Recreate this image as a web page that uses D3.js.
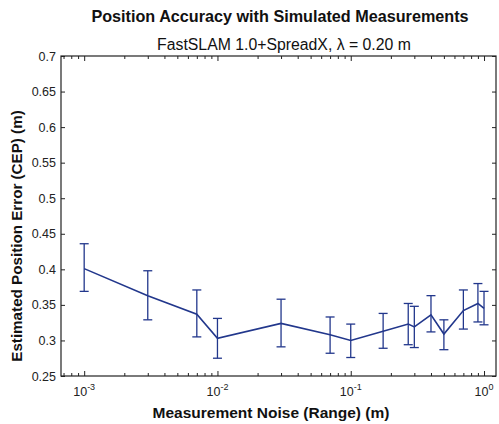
<!DOCTYPE html>
<html>
<head>
<meta charset="utf-8">
<script src="https://d3js.org/d3.v7.min.js"></script>
<style>
  body { margin: 0; background: #fff; }
  svg { display: block; font-family: "Liberation Sans", Arial, Helvetica, sans-serif; }
</style>
</head>
<body>
<div id="chart"></div>
<script>
// measurement noise (range), m
var noise = [0.001, 0.003, 0.007, 0.01, 0.03, 0.07, 0.1, 0.175, 0.27, 0.30, 0.40, 0.50, 0.70, 0.90, 1.0];
// mean CEP, m
var cepMean = [0.401, 0.363, 0.337, 0.303, 0.324, 0.308, 0.300, 0.313, 0.323, 0.319, 0.336, 0.309, 0.342, 0.352, 0.345];
// error bar ends
var cepUpper = [0.436, 0.398, 0.371, 0.331, 0.358, 0.333, 0.323, 0.338, 0.352, 0.348, 0.363, 0.329, 0.371, 0.380, 0.369];
var cepLower = [0.369, 0.329, 0.305, 0.275, 0.291, 0.282, 0.276, 0.289, 0.294, 0.290, 0.312, 0.287, 0.316, 0.326, 0.322];
// tick values
var yTicks = [0.25, 0.3, 0.35, 0.4, 0.45, 0.5, 0.55, 0.6, 0.65, 0.7];
var xMajor = [0.001, 0.01, 0.1, 1];
var xMajorExp = ["-3", "-2", "-1", "0"];

var width = 499, height = 424;
var margin = {top: 56, right: 3, bottom: 48, left: 61};
var innerW = width - margin.left - margin.right,
    innerH = height - margin.top - margin.bottom;

var lineColor = "#22378c";

var svg = d3.select("#chart").append("svg")
    .attr("width", width)
    .attr("height", height);

var g = svg.append("g")
    .attr("transform", "translate(" + margin.left + "," + margin.top + ")");

var x = d3.scaleLog()
    .domain([0.00067, 1.23])
    .range([0, innerW]);

var y = d3.scaleLinear()
    .domain([0.25, 0.7])
    .range([innerH, 0]);

// minor ticks for the log axis
var xMinor = [];
[0.0001, 0.001, 0.01, 0.1, 1].forEach(function (dec) {
    for (var k = 2; k <= 9; k++) {
        var v = dec * k;
        if (v >= x.domain()[0] && v <= x.domain()[1]) xMinor.push(v);
    }
});

// frame
g.append("rect")
    .attr("width", innerW)
    .attr("height", innerH)
    .attr("fill", "none")
    .attr("stroke", "#222")
    .attr("stroke-width", 1.2);

// y axis left + right (inward ticks)
var yAxisL = g.append("g")
    .call(d3.axisLeft(y).tickValues(yTicks).tickSizeInner(-4).tickSizeOuter(0).tickPadding(5)
        .tickFormat(function (d) { return d3.format("")(+d.toFixed(2)); }));
yAxisL.select(".domain").remove();
yAxisL.selectAll("line").attr("stroke", "#222");
yAxisL.selectAll("text")
    .attr("font-size", "12.5px")
    .attr("fill", "#222")
    .attr("font-family", "Liberation Sans, Arial, sans-serif");

var yAxisR = g.append("g")
    .attr("transform", "translate(" + innerW + ",0)")
    .call(d3.axisRight(y).tickValues(yTicks).tickSizeInner(-4).tickSizeOuter(0).tickFormat(""));
yAxisR.select(".domain").remove();
yAxisR.selectAll("line").attr("stroke", "#222");

// x axis bottom + top
function xAxisPart(gen, ty, vals, size) {
    var a = g.append("g")
        .attr("transform", "translate(0," + ty + ")")
        .call(gen(x).tickValues(vals).tickSizeInner(size).tickSizeOuter(0).tickFormat(""));
    a.select(".domain").remove();
    a.selectAll("line").attr("stroke", "#222");
    return a;
}
xAxisPart(d3.axisBottom, innerH, xMajor, -5);
xAxisPart(d3.axisBottom, innerH, xMinor, -3);
xAxisPart(d3.axisTop, 0, xMajor, -5);
xAxisPart(d3.axisTop, 0, xMinor, -3);

// x tick labels: 10^n
var xl = g.append("g").selectAll("text")
    .data(xMajor)
    .enter()
    .append("text")
    .attr("x", function (d) { return x(d); })
    .attr("y", innerH + 20)
    .attr("text-anchor", "middle")
    .attr("font-size", "12.5px")
    .attr("fill", "#222");
xl.append("tspan").text("10");
xl.append("tspan")
    .attr("dy", -6)
    .attr("font-size", "9px")
    .text(function (d, i) { return xMajorExp[i]; });

// error bars
var capW = 4.5;
var bars = g.append("g")
    .attr("stroke", lineColor)
    .attr("stroke-width", 1.3)
    .selectAll("g")
    .data(noise)
    .enter()
    .append("g");
bars.append("line")
    .attr("x1", function (d) { return x(d); })
    .attr("x2", function (d) { return x(d); })
    .attr("y1", function (d, i) { return y(cepLower[i]); })
    .attr("y2", function (d, i) { return y(cepUpper[i]); });
bars.append("line")
    .attr("x1", function (d) { return x(d) - capW; })
    .attr("x2", function (d) { return x(d) + capW; })
    .attr("y1", function (d, i) { return y(cepUpper[i]); })
    .attr("y2", function (d, i) { return y(cepUpper[i]); });
bars.append("line")
    .attr("x1", function (d) { return x(d) - capW; })
    .attr("x2", function (d) { return x(d) + capW; })
    .attr("y1", function (d, i) { return y(cepLower[i]); })
    .attr("y2", function (d, i) { return y(cepLower[i]); });

// mean line
var line = d3.line()
    .x(function (d) { return x(d); })
    .y(function (d, i) { return y(cepMean[i]); });
g.append("path")
    .datum(noise)
    .attr("d", line)
    .attr("fill", "none")
    .attr("stroke", lineColor)
    .attr("stroke-width", 1.6);

// titles
svg.append("text")
    .attr("x", 280)
    .attr("y", 22)
    .attr("text-anchor", "middle")
    .attr("font-size", "16.2px")
    .attr("font-weight", "bold")
    .attr("fill", "#111")
    .text("Position Accuracy with Simulated Measurements");
svg.append("text")
    .attr("x", 284)
    .attr("y", 50)
    .attr("text-anchor", "middle")
    .attr("font-size", "15.8px")
    .attr("fill", "#111")
    .text("FastSLAM 1.0+SpreadX, \u03bb = 0.20 m");

// axis labels
svg.append("text")
    .attr("x", 271)
    .attr("y", 418)
    .attr("text-anchor", "middle")
    .attr("font-size", "15.5px")
    .attr("font-weight", "bold")
    .attr("fill", "#111")
    .text("Measurement Noise (Range) (m)");
svg.append("text")
    .attr("transform", "translate(22,236)rotate(-90)")
    .attr("text-anchor", "middle")
    .attr("font-size", "15.2px")
    .attr("font-weight", "bold")
    .attr("fill", "#111")
    .text("Estimated Position Error (CEP) (m)");
</script>
</body>
</html>
